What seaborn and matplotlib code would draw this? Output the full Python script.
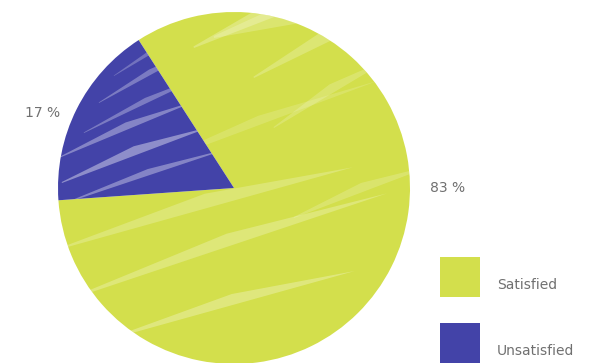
import matplotlib
matplotlib.use("Agg")
import matplotlib.pyplot as plt
import seaborn as sns
import numpy as np
from matplotlib.patches import Polygon, Rectangle

sns.set_theme(style="white")
plt.rcParams['font.family'] = ['DejaVu Sans']

categories = ["Satisfied", "Unsatisfied"]
values = [83, 17]
pct_labels = ["83 %", "17 %"]

colors = ["#d3df4c", "#4343a8"]
text_color = "#707070"

W, H = 614, 363
fig = plt.figure(figsize=(W / 100, H / 100), dpi=100)
ax = fig.add_axes([0, 0, 1, 1])

cx, cy, r = 234, H - 188, 176
wedges, _ = ax.pie(values, colors=colors, startangle=184, counterclock=True,
                   center=(cx, cy), radius=r, frame=True,
                   wedgeprops=dict(linewidth=0))
ax.set_xlim(0, W)
ax.set_ylim(0, H)
ax.set_aspect("equal")
ax.axis("off")

# sketchy light streaks (decoration), clipped to each wedge
def streak(x0, y0, length, width, angle_deg, alpha, wedge):
    a = np.deg2rad(angle_deg)
    d = np.array([np.cos(a), np.sin(a)])
    n = np.array([-d[1], d[0]])
    p0 = np.array([x0, y0])
    p1 = p0 + d * length
    pts = [p0, p1 + n * width * 0.2, p0 + d * length * 0.5 + n * width, p0 + n * width * 0.1]
    poly = Polygon(pts, closed=True, facecolor="white", edgecolor="none", alpha=alpha)
    ax.add_patch(poly)
    poly.set_clip_path(wedge)

sat, uns = wedges
# streaks on blue wedge (relative to centre)
for dx, dy, L, w, ang, al in [(-175, 30, 150, 8, 22, 0.35), (-172, 5, 160, 10, 20, 0.4),
                               (-165, -14, 170, 7, 18, 0.35), (-150, 55, 140, 6, 25, 0.3),
                               (-135, 85, 120, 6, 28, 0.3), (-120, 112, 100, 5, 30, 0.25)]:
    streak(cx + dx, cy + dy, L, w, ang, al, uns)
# streaks on yellow wedge
for dx, dy, L, w, ang, al in [(-40, 140, 160, 16, 20, 0.25), (20, 110, 170, 14, 25, 0.22),
                               (40, 60, 140, 10, 30, 0.18), (-170, -60, 300, 16, 15, 0.22),
                               (-160, -110, 330, 14, 18, 0.25), (-120, -150, 250, 12, 15, 0.28),
                               (-90, 20, 250, 10, 20, 0.15), (60, -30, 150, 10, 20, 0.18),
                               (-20, 150, 120, 20, 8, 0.2)]:
    streak(cx + dx, cy + dy, L, w, ang, al, sat)

# percentage labels
ax.text(430, H - 188, pct_labels[0], fontsize=10, color=text_color, ha="left", va="center")
ax.text(25, H - 113, pct_labels[1], fontsize=10, color=text_color, ha="left", va="center")

# legend
for i, (cat, col) in enumerate(zip(categories, colors)):
    y_top = 257 + i * 66
    ax.add_patch(Rectangle((440, H - y_top - 40), 40, 40, facecolor=col, edgecolor="none"))
    ax.text(497, H - y_top - 28, cat, fontsize=10, color=text_color, ha="left", va="center")

fig.savefig("out.png", dpi=100)
